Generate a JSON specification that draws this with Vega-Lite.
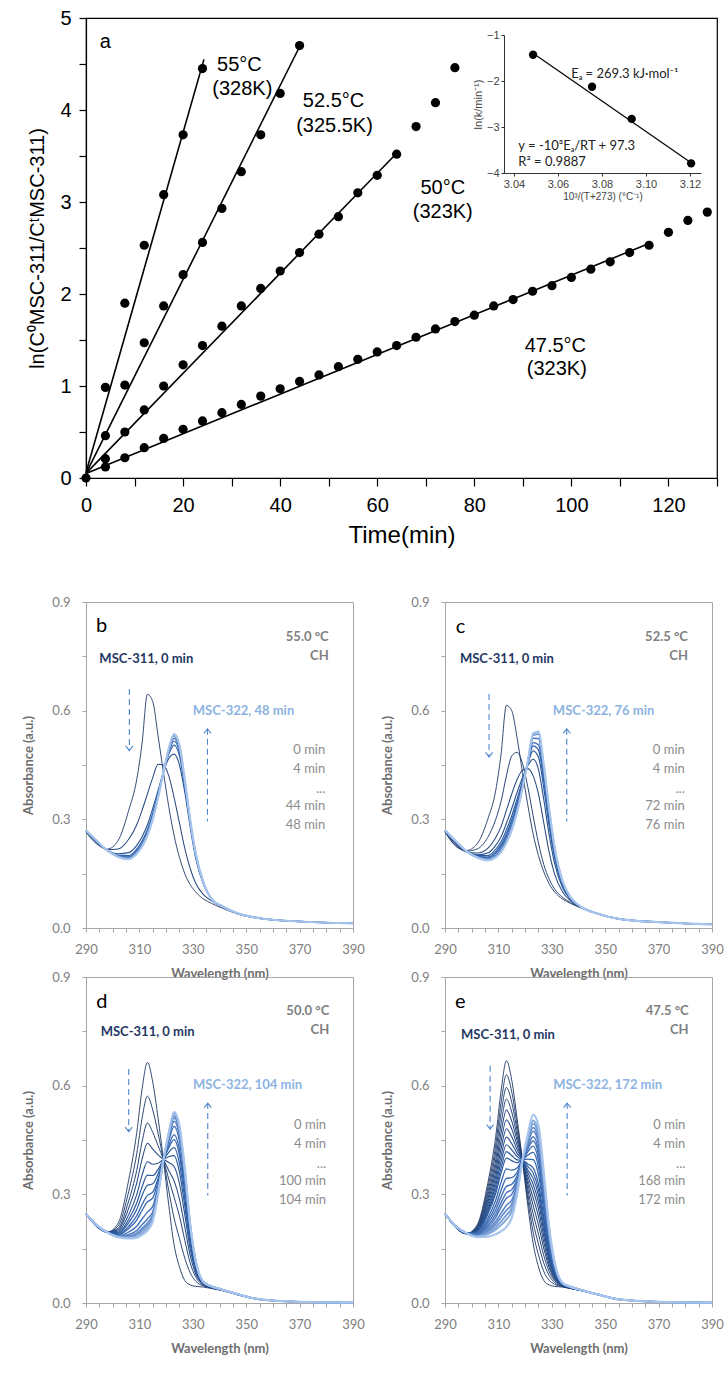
{
"$schema": "https://vega.github.io/schema/vega-lite/v6.json",
"background": "white",
"padding": {"left": 22, "top": 7, "right": 0, "bottom": 0},
"config": {
  "view": {"stroke": null},
  "axis": {"grid": false, "domainColor": "#a6a6a6", "tickColor": "#a6a6a6", "tickSize": 4, "labelColor": "#808080", "labelFont": "Lato", "labelFontSize": 13, "titleFont": "Lato", "titleFontSize": 13, "titleColor": "#6e6e6e", "titleFontWeight": "bold", "labelFlush": false, "labelOverlap": false},
  "axisY": {"labelPadding": 12, "titlePadding": 16},
  "axisX": {"labelPadding": 11, "titlePadding": 11},
  "text": {"font": "Lato"}
},
"datasets": {
  "pts": [
    {"s":"55","t":0,"y":0},
    {"s":"55","t":4,"y":0.985},{"s":"55","t":8,"y":1.90},{"s":"55","t":12,"y":2.53},{"s":"55","t":16,"y":3.08},{"s":"55","t":20,"y":3.73},{"s":"55","t":24,"y":4.45},
    {"s":"52.5","t":4,"y":0.46},{"s":"52.5","t":8,"y":1.01},{"s":"52.5","t":12,"y":1.47},{"s":"52.5","t":16,"y":1.87},{"s":"52.5","t":20,"y":2.21},{"s":"52.5","t":24,"y":2.56},{"s":"52.5","t":28,"y":2.93},{"s":"52.5","t":32,"y":3.33},{"s":"52.5","t":36,"y":3.73},{"s":"52.5","t":40,"y":4.18},{"s":"52.5","t":44,"y":4.70},
    {"s":"50","t":4,"y":0.21},{"s":"50","t":8,"y":0.50},{"s":"50","t":12,"y":0.74},{"s":"50","t":16,"y":1.00},{"s":"50","t":20,"y":1.23},{"s":"50","t":24,"y":1.44},{"s":"50","t":28,"y":1.65},{"s":"50","t":32,"y":1.87},{"s":"50","t":36,"y":2.06},{"s":"50","t":40,"y":2.25},{"s":"50","t":44,"y":2.45},{"s":"50","t":48,"y":2.65},{"s":"50","t":52,"y":2.84},{"s":"50","t":56,"y":3.10},{"s":"50","t":60,"y":3.29},{"s":"50","t":64,"y":3.52},{"s":"50","t":68,"y":3.82},{"s":"50","t":72,"y":4.08},{"s":"50","t":76,"y":4.46},
    {"s":"47.5","t":4,"y":0.12},{"s":"47.5","t":8,"y":0.22},{"s":"47.5","t":12,"y":0.33},{"s":"47.5","t":16,"y":0.43},{"s":"47.5","t":20,"y":0.53},{"s":"47.5","t":24,"y":0.62},{"s":"47.5","t":28,"y":0.71},{"s":"47.5","t":32,"y":0.80},{"s":"47.5","t":36,"y":0.89},{"s":"47.5","t":40,"y":0.97},{"s":"47.5","t":44,"y":1.05},{"s":"47.5","t":48,"y":1.12},{"s":"47.5","t":52,"y":1.21},{"s":"47.5","t":56,"y":1.29},{"s":"47.5","t":60,"y":1.37},{"s":"47.5","t":64,"y":1.44},{"s":"47.5","t":68,"y":1.53},{"s":"47.5","t":72,"y":1.62},{"s":"47.5","t":76,"y":1.70},{"s":"47.5","t":80,"y":1.77},{"s":"47.5","t":84,"y":1.87},{"s":"47.5","t":88,"y":1.94},{"s":"47.5","t":92,"y":2.03},{"s":"47.5","t":96,"y":2.09},{"s":"47.5","t":100,"y":2.18},{"s":"47.5","t":104,"y":2.27},{"s":"47.5","t":108,"y":2.35},{"s":"47.5","t":112,"y":2.45},{"s":"47.5","t":116,"y":2.53},{"s":"47.5","t":120,"y":2.67},{"s":"47.5","t":124,"y":2.80},{"s":"47.5","t":128,"y":2.89}
  ],
  "fit": [
    {"s":"55","t":0,"y":0.06},{"s":"55","t":24.3,"y":4.55},
    {"s":"52.5","t":0,"y":0.05},{"s":"52.5","t":44.3,"y":4.72},
    {"s":"50","t":0,"y":0.05},{"s":"50","t":64,"y":3.53},
    {"s":"47.5","t":0,"y":0.05},{"s":"47.5","t":116,"y":2.55}
  ],
  "lab": [
    {"t":31.6,"y":4.49,"txt":"55°C"},{"t":32.2,"y":4.23,"txt":"(328K)"},
    {"t":51,"y":4.10,"txt":"52.5°C"},{"t":51.2,"y":3.83,"txt":"(325.5K)"},
    {"t":73.5,"y":3.15,"txt":"50°C"},{"t":73.5,"y":2.89,"txt":"(323K)"},
    {"t":96.7,"y":1.44,"txt":"47.5°C"},{"t":97,"y":1.18,"txt":"(323K)"}
  ],
  "ins": [{"ix":3.0487,"iy":-1.42},{"ix":3.0755,"iy":-2.12},{"ix":3.0935,"iy":-2.82},{"ix":3.1205,"iy":-3.79}],
  "insfit": [{"ix":3.0487,"iy":-1.39},{"ix":3.12,"iy":-3.76}],
  "instxt": [
    {"ix":3.066,"iy":-1.84,"txt":"Eₐ = 269.3 kJ·mol⁻¹"},
    {"ix":3.042,"iy":-3.42,"txt":"y = -10³Eₐ/RT + 97.3"},
    {"ix":3.042,"iy":-3.77,"txt":"R² = 0.9887"}
  ],
  "spec": [
    {"p":"b","t":0,"w":[290,294,298,302,306,309,311,313,315,317,319,321,323,325,327,329,331,334,337,341,347,355,370,390],"a":[0.264,0.232,0.218,0.241,0.325,0.41,0.51,0.645,0.625,0.53,0.43,0.335,0.255,0.195,0.15,0.12,0.10,0.08,0.068,0.055,0.038,0.026,0.018,0.013]},
    {"p":"b","t":4,"w":[290,294,298,302,306,309,311,313,315,317,319,321,323,325,327,329,331,334,337,341,347,355,370,390],"a":[0.266,0.236,0.216,0.218,0.245,0.285,0.325,0.37,0.415,0.452,0.45,0.42,0.36,0.29,0.22,0.165,0.125,0.092,0.075,0.058,0.04,0.027,0.018,0.013]},
    {"p":"b","t":8,"w":[290,294,298,302,306,309,311,313,315,317,319,321,323,325,327,329,331,334,337,341,347,355,370,390],"a":[0.267,0.238,0.215,0.205,0.208,0.228,0.252,0.285,0.33,0.38,0.43,0.468,0.48,0.45,0.375,0.28,0.195,0.12,0.08,0.06,0.04,0.027,0.018,0.013]},
    {"p":"b","t":12,"w":[290,294,298,302,306,309,311,313,315,317,319,321,323,325,327,329,331,334,337,341,347,355,370,390],"a":[0.268,0.239,0.215,0.201,0.20,0.218,0.24,0.272,0.317,0.371,0.43,0.48,0.505,0.475,0.39,0.289,0.202,0.122,0.08,0.06,0.04,0.027,0.018,0.013]},
    {"p":"b","t":16,"w":[290,294,298,302,306,309,311,313,315,317,319,321,323,325,327,329,331,334,337,341,347,355,370,390],"a":[0.268,0.24,0.214,0.199,0.196,0.213,0.234,0.266,0.31,0.367,0.43,0.486,0.516,0.486,0.398,0.293,0.205,0.123,0.08,0.06,0.04,0.027,0.018,0.013]},
    {"p":"b","t":20,"w":[290,294,298,302,306,309,311,313,315,317,319,321,323,325,327,329,331,334,337,341,347,355,370,390],"a":[0.269,0.24,0.214,0.198,0.194,0.21,0.23,0.261,0.306,0.364,0.43,0.49,0.524,0.494,0.403,0.296,0.207,0.124,0.08,0.06,0.04,0.027,0.018,0.013]},
    {"p":"b","t":28,"w":[290,294,298,302,306,309,311,313,315,317,319,321,323,325,327,329,331,334,337,341,347,355,370,390],"a":[0.269,0.241,0.214,0.197,0.191,0.207,0.227,0.257,0.302,0.362,0.43,0.493,0.531,0.501,0.407,0.298,0.209,0.125,0.08,0.06,0.04,0.027,0.018,0.013]},
    {"p":"b","t":48,"w":[290,294,298,302,306,309,311,313,315,317,319,321,323,325,327,329,331,334,337,341,347,355,370,390],"a":[0.269,0.241,0.214,0.196,0.19,0.205,0.225,0.255,0.30,0.36,0.43,0.495,0.535,0.505,0.41,0.30,0.21,0.125,0.08,0.06,0.04,0.027,0.018,0.013]},

    {"p":"c","t":0,"w":[290,294,298,302,306,309,311,313,315,317,319,321,323,325,327,329,331,334,337,341,347,355,370,390],"a":[0.266,0.226,0.214,0.232,0.30,0.38,0.48,0.615,0.60,0.525,0.43,0.34,0.26,0.2,0.155,0.122,0.10,0.08,0.068,0.055,0.04,0.026,0.017,0.01]},
    {"p":"c","t":4,"w":[290,294,298,302,306,309,311,313,315,317,319,321,323,325,327,329,331,334,337,341,347,355,370,390],"a":[0.265,0.228,0.212,0.218,0.25,0.30,0.35,0.42,0.475,0.485,0.455,0.39,0.31,0.235,0.175,0.135,0.108,0.085,0.07,0.056,0.04,0.026,0.017,0.01]},
    {"p":"c","t":8,"w":[290,294,298,302,306,309,311,313,315,317,319,321,323,325,327,329,331,334,337,341,347,355,370,390],"a":[0.266,0.232,0.21,0.207,0.22,0.25,0.28,0.325,0.37,0.41,0.435,0.44,0.42,0.37,0.29,0.21,0.15,0.1,0.075,0.058,0.04,0.025,0.016,0.01]},
    {"p":"c","t":12,"w":[290,294,298,302,306,309,311,313,315,317,319,321,323,325,327,329,331,334,337,341,347,355,370,390],"a":[0.268,0.235,0.211,0.202,0.207,0.228,0.252,0.289,0.33,0.374,0.415,0.448,0.466,0.438,0.354,0.258,0.18,0.112,0.079,0.058,0.04,0.025,0.016,0.01]},
    {"p":"c","t":16,"w":[290,294,298,302,306,309,311,313,315,317,319,321,323,325,327,329,331,334,337,341,347,355,370,390],"a":[0.268,0.237,0.211,0.2,0.2,0.217,0.238,0.271,0.31,0.356,0.405,0.452,0.489,0.472,0.386,0.282,0.195,0.118,0.081,0.058,0.04,0.025,0.016,0.01]},
    {"p":"c","t":20,"w":[290,294,298,302,306,309,311,313,315,317,319,321,323,325,327,329,331,334,337,341,347,355,370,390],"a":[0.269,0.238,0.211,0.198,0.196,0.21,0.23,0.26,0.298,0.345,0.399,0.454,0.503,0.492,0.405,0.296,0.204,0.122,0.082,0.058,0.04,0.025,0.016,0.01]},
    {"p":"c","t":24,"w":[290,294,298,302,306,309,311,313,315,317,319,321,323,325,327,329,331,334,337,341,347,355,370,390],"a":[0.269,0.238,0.212,0.197,0.194,0.206,0.224,0.253,0.29,0.338,0.395,0.456,0.512,0.506,0.418,0.306,0.21,0.124,0.083,0.058,0.04,0.025,0.016,0.01]},
    {"p":"c","t":32,"w":[290,294,298,302,306,309,311,313,315,317,319,321,323,325,327,329,331,334,337,341,347,355,370,390],"a":[0.27,0.239,0.212,0.196,0.19,0.2,0.217,0.244,0.28,0.329,0.39,0.458,0.524,0.523,0.434,0.318,0.218,0.127,0.084,0.058,0.04,0.025,0.016,0.01]},
    {"p":"c","t":48,"w":[290,294,298,302,306,309,311,313,315,317,319,321,323,325,327,329,331,334,337,341,347,355,370,390],"a":[0.27,0.24,0.212,0.195,0.188,0.197,0.212,0.238,0.273,0.323,0.387,0.459,0.532,0.535,0.445,0.326,0.223,0.129,0.085,0.058,0.04,0.025,0.016,0.01]},
    {"p":"c","t":76,"w":[290,294,298,302,306,309,311,313,315,317,319,321,323,325,327,329,331,334,337,341,347,355,370,390],"a":[0.27,0.24,0.212,0.195,0.187,0.195,0.21,0.235,0.27,0.32,0.385,0.46,0.537,0.542,0.45,0.33,0.225,0.13,0.085,0.058,0.04,0.025,0.016,0.01]},

    {"p":"d","t":0,"w":[290,294,298,302,306,309,311,313,315,317,319,321,323,325,327,329,331,334,337,341,347,355,370,390],"a":[0.246,0.21,0.196,0.22,0.34,0.47,0.59,0.664,0.61,0.51,0.395,0.27,0.16,0.1,0.062,0.05,0.046,0.044,0.04,0.034,0.022,0.01,0.003,0.001]},
    {"p":"d","t":4,"w":[290,294,298,302,306,309,311,313,315,317,319,321,323,325,327,329,331,334,337,341,347,355,370,390],"a":[0.246,0.211,0.196,0.212,0.308,0.412,0.51,0.571,0.533,0.468,0.395,0.31,0.234,0.178,0.124,0.084,0.061,0.047,0.041,0.035,0.022,0.01,0.003,0.001]},
    {"p":"d","t":8,"w":[290,294,298,302,306,309,311,313,315,317,319,321,323,325,327,329,331,334,337,341,347,355,370,390],"a":[0.246,0.212,0.196,0.206,0.282,0.366,0.445,0.497,0.471,0.434,0.395,0.342,0.292,0.24,0.173,0.111,0.073,0.049,0.042,0.035,0.023,0.01,0.003,0.001]},
    {"p":"d","t":12,"w":[290,294,298,302,306,309,311,313,315,317,319,321,323,325,327,329,331,334,337,341,347,355,370,390],"a":[0.246,0.212,0.196,0.202,0.262,0.331,0.397,0.441,0.425,0.409,0.395,0.366,0.337,0.287,0.21,0.132,0.082,0.051,0.043,0.035,0.023,0.01,0.003,0.001]},
    {"p":"d","t":16,"w":[290,294,298,302,306,309,311,313,315,317,319,321,323,325,327,329,331,334,337,341,347,355,370,390],"a":[0.246,0.213,0.195,0.198,0.244,0.299,0.353,0.39,0.383,0.386,0.395,0.388,0.377,0.33,0.244,0.15,0.09,0.052,0.044,0.036,0.023,0.01,0.003,0.001]},
    {"p":"d","t":20,"w":[290,294,298,302,306,309,311,313,315,317,319,321,323,325,327,329,331,334,337,341,347,355,370,390],"a":[0.246,0.213,0.195,0.195,0.231,0.276,0.321,0.353,0.352,0.369,0.395,0.404,0.407,0.361,0.268,0.164,0.096,0.053,0.044,0.036,0.023,0.01,0.003,0.001]},
    {"p":"d","t":24,"w":[290,294,298,302,306,309,311,313,315,317,319,321,323,325,327,329,331,334,337,341,347,355,370,390],"a":[0.246,0.214,0.195,0.192,0.222,0.258,0.297,0.325,0.329,0.357,0.395,0.416,0.429,0.385,0.287,0.174,0.10,0.054,0.044,0.036,0.023,0.01,0.003,0.001]},
    {"p":"d","t":28,"w":[290,294,298,302,306,309,311,313,315,317,319,321,323,325,327,329,331,334,337,341,347,355,370,390],"a":[0.246,0.214,0.195,0.19,0.212,0.241,0.272,0.297,0.306,0.344,0.395,0.428,0.451,0.408,0.305,0.184,0.104,0.055,0.045,0.036,0.024,0.01,0.003,0.001]},
    {"p":"d","t":32,"w":[290,294,298,302,306,309,311,313,315,317,319,321,323,325,327,329,331,334,337,341,347,355,370,390],"a":[0.246,0.214,0.195,0.188,0.206,0.229,0.256,0.279,0.29,0.336,0.395,0.436,0.465,0.424,0.318,0.191,0.107,0.056,0.045,0.036,0.024,0.01,0.003,0.001]},
    {"p":"d","t":40,"w":[290,294,298,302,306,309,311,313,315,317,319,321,323,325,327,329,331,334,337,341,347,355,370,390],"a":[0.246,0.214,0.195,0.186,0.196,0.212,0.232,0.251,0.267,0.323,0.395,0.448,0.488,0.447,0.336,0.201,0.112,0.056,0.045,0.037,0.024,0.01,0.003,0.001]},
    {"p":"d","t":48,"w":[290,294,298,302,306,309,311,313,315,317,319,321,323,325,327,329,331,334,337,341,347,355,370,390],"a":[0.246,0.215,0.195,0.185,0.189,0.2,0.216,0.232,0.252,0.315,0.395,0.456,0.502,0.463,0.348,0.208,0.115,0.057,0.046,0.037,0.024,0.01,0.003,0.001]},
    {"p":"d","t":56,"w":[290,294,298,302,306,309,311,313,315,317,319,321,323,325,327,329,331,334,337,341,347,355,370,390],"a":[0.246,0.215,0.195,0.184,0.185,0.193,0.206,0.221,0.243,0.31,0.395,0.461,0.511,0.472,0.356,0.212,0.117,0.057,0.046,0.037,0.024,0.01,0.003,0.001]},
    {"p":"d","t":64,"w":[290,294,298,302,306,309,311,313,315,317,319,321,323,325,327,329,331,334,337,341,347,355,370,390],"a":[0.246,0.215,0.195,0.183,0.183,0.189,0.2,0.214,0.237,0.306,0.395,0.464,0.517,0.478,0.361,0.215,0.118,0.058,0.046,0.037,0.024,0.01,0.003,0.001]},
    {"p":"d","t":80,"w":[290,294,298,302,306,309,311,313,315,317,319,321,323,325,327,329,331,334,337,341,347,355,370,390],"a":[0.246,0.215,0.195,0.182,0.18,0.183,0.193,0.206,0.23,0.303,0.395,0.468,0.524,0.485,0.366,0.218,0.119,0.058,0.046,0.037,0.024,0.01,0.003,0.001]},
    {"p":"d","t":104,"w":[290,294,298,302,306,309,311,313,315,317,319,321,323,325,327,329,331,334,337,341,347,355,370,390],"a":[0.246,0.215,0.195,0.182,0.178,0.18,0.188,0.20,0.225,0.30,0.395,0.47,0.528,0.49,0.37,0.22,0.12,0.058,0.046,0.037,0.024,0.01,0.003,0.001]},

    {"p":"e","t":0,"w":[290,294,298,302,306,309,311,313,315,317,319,321,323,325,327,329,331,334,337,341,347,355,370,390],"a":[0.246,0.208,0.191,0.215,0.33,0.46,0.585,0.669,0.615,0.51,0.394,0.27,0.165,0.1,0.062,0.05,0.046,0.044,0.04,0.034,0.024,0.01,0.003,0.001]},
    {"p":"e","t":4,"w":[290,294,298,302,306,309,311,313,315,317,319,321,323,325,327,329,331,334,337,341,347,355,370,390],"a":[0.246,0.208,0.191,0.212,0.318,0.437,0.552,0.63,0.583,0.492,0.394,0.286,0.195,0.133,0.087,0.063,0.052,0.045,0.04,0.034,0.024,0.01,0.003,0.001]},
    {"p":"e","t":8,"w":[290,294,298,302,306,309,311,313,315,317,319,321,323,325,327,329,331,334,337,341,347,355,370,390],"a":[0.246,0.209,0.191,0.21,0.306,0.417,0.523,0.595,0.554,0.476,0.394,0.301,0.222,0.163,0.11,0.076,0.057,0.046,0.041,0.034,0.024,0.01,0.003,0.001]},
    {"p":"e","t":12,"w":[290,294,298,302,306,309,311,313,315,317,319,321,323,325,327,329,331,334,337,341,347,355,370,390],"a":[0.246,0.209,0.191,0.207,0.296,0.397,0.495,0.563,0.527,0.461,0.394,0.315,0.247,0.19,0.131,0.087,0.062,0.047,0.041,0.034,0.024,0.01,0.003,0.001]},
    {"p":"e","t":16,"w":[290,294,298,302,306,309,311,313,315,317,319,321,323,325,327,329,331,334,337,341,347,355,370,390],"a":[0.246,0.209,0.192,0.205,0.286,0.38,0.47,0.533,0.502,0.448,0.394,0.328,0.27,0.216,0.151,0.098,0.066,0.048,0.041,0.035,0.024,0.01,0.003,0.001]},
    {"p":"e","t":20,"w":[290,294,298,302,306,309,311,313,315,317,319,321,323,325,327,329,331,334,337,341,347,355,370,390],"a":[0.246,0.209,0.192,0.203,0.278,0.364,0.447,0.506,0.48,0.435,0.394,0.339,0.291,0.239,0.168,0.107,0.071,0.048,0.042,0.035,0.024,0.01,0.003,0.001]},
    {"p":"e","t":24,"w":[290,294,298,302,306,309,311,313,315,317,319,321,323,325,327,329,331,334,337,341,347,355,370,390],"a":[0.246,0.21,0.192,0.201,0.27,0.349,0.426,0.481,0.459,0.424,0.394,0.35,0.311,0.26,0.184,0.116,0.074,0.049,0.042,0.035,0.024,0.01,0.003,0.001]},
    {"p":"e","t":28,"w":[290,294,298,302,306,309,311,313,315,317,319,321,323,325,327,329,331,334,337,341,347,355,370,390],"a":[0.246,0.21,0.192,0.2,0.262,0.336,0.407,0.458,0.44,0.413,0.394,0.36,0.328,0.279,0.199,0.124,0.078,0.05,0.042,0.035,0.024,0.01,0.003,0.001]},
    {"p":"e","t":32,"w":[290,294,298,302,306,309,311,313,315,317,319,321,323,325,327,329,331,334,337,341,347,355,370,390],"a":[0.246,0.21,0.192,0.198,0.256,0.324,0.39,0.437,0.423,0.404,0.394,0.368,0.344,0.297,0.212,0.131,0.081,0.05,0.043,0.035,0.024,0.01,0.003,0.001]},
    {"p":"e","t":36,"w":[290,294,298,302,306,309,311,313,315,317,319,321,323,325,327,329,331,334,337,341,347,355,370,390],"a":[0.246,0.21,0.192,0.197,0.25,0.312,0.373,0.418,0.407,0.395,0.394,0.377,0.359,0.313,0.225,0.138,0.084,0.051,0.043,0.035,0.024,0.01,0.003,0.001]},
    {"p":"e","t":40,"w":[290,294,298,302,306,309,311,313,315,317,319,321,323,325,327,329,331,334,337,341,347,355,370,390],"a":[0.246,0.21,0.192,0.196,0.244,0.302,0.359,0.40,0.393,0.387,0.394,0.384,0.373,0.328,0.236,0.144,0.086,0.051,0.043,0.035,0.024,0.01,0.003,0.001]},
    {"p":"e","t":48,"w":[290,294,298,302,306,309,311,313,315,317,319,321,323,325,327,329,331,334,337,341,347,355,370,390],"a":[0.246,0.211,0.192,0.193,0.234,0.284,0.333,0.37,0.367,0.373,0.394,0.397,0.396,0.354,0.256,0.154,0.091,0.052,0.043,0.035,0.024,0.01,0.003,0.001]},
    {"p":"e","t":56,"w":[290,294,298,302,306,309,311,313,315,317,319,321,323,325,327,329,331,334,337,341,347,355,370,390],"a":[0.246,0.211,0.192,0.192,0.226,0.269,0.311,0.344,0.346,0.361,0.394,0.408,0.416,0.376,0.273,0.163,0.095,0.052,0.044,0.035,0.024,0.01,0.003,0.001]},
    {"p":"e","t":64,"w":[290,294,298,302,306,309,311,313,315,317,319,321,323,325,327,329,331,334,337,341,347,355,370,390],"a":[0.246,0.211,0.193,0.19,0.219,0.256,0.293,0.322,0.328,0.351,0.394,0.417,0.433,0.394,0.287,0.171,0.098,0.053,0.044,0.036,0.024,0.01,0.003,0.001]},
    {"p":"e","t":72,"w":[290,294,298,302,306,309,311,313,315,317,319,321,323,325,327,329,331,334,337,341,347,355,370,390],"a":[0.246,0.211,0.193,0.189,0.213,0.245,0.277,0.304,0.313,0.343,0.394,0.425,0.447,0.41,0.299,0.177,0.101,0.054,0.044,0.036,0.024,0.01,0.003,0.001]},
    {"p":"e","t":80,"w":[290,294,298,302,306,309,311,313,315,317,319,321,323,325,327,329,331,334,337,341,347,355,370,390],"a":[0.246,0.211,0.193,0.188,0.208,0.236,0.265,0.289,0.30,0.336,0.394,0.431,0.459,0.423,0.309,0.182,0.103,0.054,0.044,0.036,0.024,0.01,0.003,0.001]},
    {"p":"e","t":92,"w":[290,294,298,302,306,309,311,313,315,317,319,321,323,325,327,329,331,334,337,341,347,355,370,390],"a":[0.246,0.212,0.193,0.186,0.202,0.225,0.248,0.27,0.284,0.327,0.394,0.44,0.474,0.439,0.321,0.189,0.106,0.054,0.044,0.036,0.024,0.01,0.003,0.001]},
    {"p":"e","t":104,"w":[290,294,298,302,306,309,311,313,315,317,319,321,323,325,327,329,331,334,337,341,347,355,370,390],"a":[0.246,0.212,0.193,0.185,0.198,0.217,0.237,0.256,0.273,0.321,0.394,0.445,0.484,0.451,0.33,0.194,0.108,0.055,0.045,0.036,0.024,0.01,0.003,0.001]},
    {"p":"e","t":120,"w":[290,294,298,302,306,309,311,313,315,317,319,321,323,325,327,329,331,334,337,341,347,355,370,390],"a":[0.246,0.212,0.193,0.184,0.193,0.209,0.225,0.243,0.262,0.315,0.394,0.451,0.495,0.462,0.339,0.199,0.11,0.055,0.045,0.036,0.024,0.01,0.003,0.001]},
    {"p":"e","t":140,"w":[290,294,298,302,306,309,311,313,315,317,319,321,323,325,327,329,331,334,337,341,347,355,370,390],"a":[0.246,0.212,0.193,0.183,0.19,0.202,0.215,0.231,0.252,0.309,0.394,0.456,0.504,0.472,0.347,0.203,0.112,0.055,0.045,0.036,0.024,0.01,0.003,0.001]},
    {"p":"e","t":172,"w":[290,294,298,302,306,309,311,313,315,317,319,321,323,325,327,329,331,334,337,341,347,355,370,390],"a":[0.246,0.212,0.193,0.182,0.183,0.19,0.198,0.21,0.235,0.30,0.394,0.465,0.52,0.49,0.36,0.21,0.115,0.056,0.045,0.036,0.024,0.01,0.003,0.001]}
  ],
  "ann": [
    {"p":"b","k":"let","w":293.75,"a":0.834,"txt":"b"},
    {"p":"b","k":"tmp","w":380.9,"a":0.803,"txt":"55.0 °C"},
    {"p":"b","k":"tmp","w":380.9,"a":0.751,"txt":"CH"},
    {"p":"b","k":"m1","w":295,"a":0.742,"txt":"MSC-311, 0 min"},
    {"p":"b","k":"m2","w":330,"a":0.599,"txt":"MSC-322, 48 min"},
    {"p":"b","k":"tm","w":379.6,"a":0.492,"txt":"0 min"},
    {"p":"b","k":"tm","w":379.6,"a":0.439,"txt":"4 min"},
    {"p":"b","k":"tm","w":379.6,"a":0.384,"txt":"..."},
    {"p":"b","k":"tm","w":379.6,"a":0.336,"txt":"44 min"},
    {"p":"b","k":"tm","w":379.6,"a":0.285,"txt":"48 min"},
    {"p":"c","k":"let","w":294,"a":0.831,"txt":"c"},
    {"p":"c","k":"tmp","w":381,"a":0.803,"txt":"52.5 °C"},
    {"p":"c","k":"tmp","w":381,"a":0.751,"txt":"CH"},
    {"p":"c","k":"m1","w":295.6,"a":0.743,"txt":"MSC-311, 0 min"},
    {"p":"c","k":"m2","w":330.4,"a":0.599,"txt":"MSC-322, 76 min"},
    {"p":"c","k":"tm","w":379.8,"a":0.492,"txt":"0 min"},
    {"p":"c","k":"tm","w":379.8,"a":0.439,"txt":"4 min"},
    {"p":"c","k":"tm","w":379.8,"a":0.384,"txt":"..."},
    {"p":"c","k":"tm","w":379.8,"a":0.336,"txt":"72 min"},
    {"p":"c","k":"tm","w":379.8,"a":0.285,"txt":"76 min"},
    {"p":"d","k":"let","w":293.8,"a":0.832,"txt":"d"},
    {"p":"d","k":"tmp","w":381.1,"a":0.806,"txt":"50.0 °C"},
    {"p":"d","k":"tmp","w":381.1,"a":0.753,"txt":"CH"},
    {"p":"d","k":"m1","w":295.5,"a":0.747,"txt":"MSC-311, 0 min"},
    {"p":"d","k":"m2","w":330.1,"a":0.602,"txt":"MSC-322, 104 min"},
    {"p":"d","k":"tm","w":379.9,"a":0.491,"txt":"0 min"},
    {"p":"d","k":"tm","w":379.9,"a":0.439,"txt":"4 min"},
    {"p":"d","k":"tm","w":379.9,"a":0.384,"txt":"..."},
    {"p":"d","k":"tm","w":379.9,"a":0.336,"txt":"100 min"},
    {"p":"d","k":"tm","w":379.9,"a":0.283,"txt":"104 min"},
    {"p":"e","k":"let","w":293.75,"a":0.832,"txt":"e"},
    {"p":"e","k":"tmp","w":381.25,"a":0.806,"txt":"47.5 °C"},
    {"p":"e","k":"tmp","w":381.25,"a":0.753,"txt":"CH"},
    {"p":"e","k":"m1","w":296,"a":0.739,"txt":"MSC-311, 0 min"},
    {"p":"e","k":"m2","w":330.5,"a":0.602,"txt":"MSC-322, 172 min"},
    {"p":"e","k":"tm","w":380,"a":0.491,"txt":"0 min"},
    {"p":"e","k":"tm","w":380,"a":0.439,"txt":"4 min"},
    {"p":"e","k":"tm","w":380,"a":0.384,"txt":"..."},
    {"p":"e","k":"tm","w":380,"a":0.336,"txt":"168 min"},
    {"p":"e","k":"tm","w":380,"a":0.283,"txt":"172 min"}
  ],
  "arr": [
    {"p":"b","w":306.25,"a":0.66,"a2":0.49},{"p":"b","w":335.5,"a":0.55,"a2":0.294},
    {"p":"c","w":306.5,"a":0.646,"a2":0.472},{"p":"c","w":335.6,"a":0.55,"a2":0.294},
    {"p":"d","w":306,"a":0.646,"a2":0.473},{"p":"d","w":335.6,"a":0.552,"a2":0.297},
    {"p":"e","w":306.9,"a":0.655,"a2":0.48},{"p":"e","w":335.75,"a":0.552,"a2":0.297}
  ],
  "head": [
    {"p":"b","d":"dn","w":306.25,"a":0.49},{"p":"b","d":"up","w":335.5,"a":0.55},
    {"p":"c","d":"dn","w":306.5,"a":0.472},{"p":"c","d":"up","w":335.6,"a":0.55},
    {"p":"d","d":"dn","w":306,"a":0.473},{"p":"d","d":"up","w":335.6,"a":0.552},
    {"p":"e","d":"dn","w":306.9,"a":0.48},{"p":"e","d":"up","w":335.75,"a":0.552}
  ]
},
"resolve": {"scale": {"color": "independent", "strokeWidth": "independent"}},
"columns": 1,
"align": "none",
"spacing": 47,
"concat": [
  {
    "width": 631, "height": 460,
    "view": {"stroke": "black", "strokeWidth": 1.2},
    "resolve": {"scale": {"x": "independent", "y": "independent"}, "axis": {"x": "independent", "y": "independent"}},
    "layer": [
      {
        "encoding": {
          "x": {"field": "t", "type": "quantitative", "scale": {"domain": [0, 130], "nice": false},
                "axis": {"title": "Time(min)", "orient": "bottom", "values": [0,10,20,30,40,50,60,70,80,90,100,110,120,130], "labelExpr": "datum.value % 20 === 0 ? datum.label : ''", "tickSize": 8, "labelPadding": 9, "tickColor": "black", "domainColor": "black", "domainWidth": 1.2, "tickWidth": 1.2, "labelColor": "black", "labelFont": "Liberation Sans", "labelFontSize": 20, "titleFont": "Liberation Sans", "titleFontSize": 24, "titleFontWeight": "normal", "titleColor": "black", "titlePadding": 8}},
          "y": {"field": "y", "type": "quantitative", "scale": {"domain": [0, 5], "nice": false},
                "axis": {"title": "ln(C⁰MSC-311/CᵗMSC-311)", "orient": "left", "values": [0,0.5,1,1.5,2,2.5,3,3.5,4,4.5,5], "labelExpr": "datum.value % 1 === 0 ? format(datum.value, 'd') : ''", "tickSize": 7, "labelPadding": 8, "tickColor": "black", "domainColor": "black", "domainWidth": 1.2, "tickWidth": 1.2, "labelColor": "black", "labelFont": "Liberation Sans", "labelFontSize": 20, "titleFont": "Liberation Sans", "titleFontSize": 20, "titleFontWeight": "normal", "titleColor": "black", "titlePadding": 12}}
        },
        "layer": [
          {"data": {"name": "fit"}, "mark": {"type": "line", "color": "black", "strokeWidth": 1.6}, "encoding": {"detail": {"field": "s"}}},
          {"data": {"name": "pts"}, "mark": {"type": "circle", "color": "black", "opacity": 1, "size": 85}},
          {"data": {"name": "lab"}, "mark": {"type": "text", "font": "Liberation Sans", "fontSize": 20, "color": "black", "align": "center", "baseline": "middle"}, "encoding": {"text": {"field": "txt"}}},
          {"data": {"values": [{"t": 4, "y": 4.74, "txt": "a"}]}, "mark": {"type": "text", "font": "Liberation Sans", "fontSize": 20, "color": "black", "align": "center", "baseline": "middle"}, "encoding": {"text": {"field": "txt"}}}
        ]
      },
      {
        "encoding": {
          "x": {"field": "ix", "type": "quantitative", "scale": {"domain": [3.0355, 3.125], "range": [418, 615], "nice": false, "zero": false},
                "axis": {"title": "10³/(T+273) (°C⁻¹)", "orient": "bottom", "offset": -305, "values": [3.04,3.06,3.08,3.10,3.12], "format": ".2f", "tickSize": 3, "labelPadding": 2, "tickColor": "#333", "domainColor": "#333", "labelColor": "#444", "labelFont": "Liberation Sans", "labelFontSize": 11, "titleFont": "Liberation Sans", "titleFontSize": 10, "titleFontWeight": "normal", "titleColor": "#444", "titlePadding": 2}},
          "y": {"field": "iy", "type": "quantitative", "scale": {"domain": [-4, -0.99], "range": [155, 17], "nice": false, "zero": false},
                "axis": {"title": "ln(k/min⁻¹)", "orient": "left", "offset": -418, "values": [-1,-2,-3,-4], "tickSize": 3, "labelPadding": 2, "tickColor": "#333", "domainColor": "#333", "labelColor": "#444", "labelFont": "Liberation Sans", "labelFontSize": 11, "titleFont": "Liberation Sans", "titleFontSize": 11, "titleFontWeight": "normal", "titleColor": "#444", "titlePadding": 3}}
        },
        "layer": [
          {"data": {"values": [{}]}, "mark": {"type": "rect", "fill": "white", "stroke": "#333", "strokeWidth": 1}, "encoding": {"x": {"datum": 3.0355}, "x2": {"datum": 3.125}, "y": {"datum": -4}, "y2": {"datum": -0.99}}},
          {"data": {"name": "insfit"}, "mark": {"type": "line", "color": "black", "strokeWidth": 1.2}},
          {"data": {"name": "ins"}, "mark": {"type": "circle", "color": "black", "opacity": 1, "size": 70}},
          {"data": {"name": "instxt"}, "mark": {"type": "text", "font": "Lato", "fontSize": 13, "color": "#222", "align": "left", "baseline": "middle"}, "encoding": {"text": {"field": "txt"}}}
        ]
      }
    ]
  },
  {
    "columns": 2,
    "bounds": "flush",
    "spacing": {"row": 49, "column": 92},
    "resolve": {"scale": {"color": "independent", "strokeWidth": "independent"}},
    "concat": [
      {
        "width": 267, "height": 326, "view": {"stroke": "#a6a6a6"},
        "encoding": {
          "x": {"field": "w", "type": "quantitative", "scale": {"domain": [290, 390], "nice": false}, "axis": {"title": "Wavelength (nm)", "values": [290,295,300,305,310,315,320,325,330,335,340,345,350,355,360,365,370,375,380,385,390], "labelExpr": "(datum.value - 290) % 20 === 0 ? datum.label : ''"}},
          "y": {"field": "a", "type": "quantitative", "scale": {"domain": [0, 0.9], "nice": false}, "axis": {"title": "Absorbance (a.u.)", "values": [0,0.15,0.3,0.45,0.6,0.75,0.9], "labelExpr": "indexof([0,0.3,0.6,0.9], datum.value) >= 0 ? format(datum.value, '.1f') : ''"}}
        },
        "layer": [
          {"data": {"name": "spec"}, "transform": [{"filter": "datum.p === 'b'"}, {"flatten": ["w", "a"]}], "mark": {"type": "line", "interpolate": "monotone"},
           "encoding": {"detail": {"field": "t"}, "color": {"field": "t", "type": "quantitative", "scale": {"domain": [0, 12, 48], "range": ["#1F3864", "#2E62AD", "#A6C4EC"]}, "legend": null}, "strokeWidth": {"field": "t", "type": "quantitative", "scale": {"domain": [0, 48], "range": [0.9, 2.2]}, "legend": null}}},
          {"data": {"name": "arr"}, "transform": [{"filter": "datum.p === 'b'"}], "mark": {"type": "rule", "strokeDash": [6, 4], "color": "#4F86CC", "strokeWidth": 1.1}, "encoding": {"y2": {"field": "a2"}}},
          {"data": {"name": "head"}, "transform": [{"filter": "datum.p === 'b' && datum.d === 'dn'"}], "mark": {"type": "point", "shape": "M-1,-1.3L0,0L1,-1.3", "filled": false, "size": 50, "color": "#4F86CC", "strokeWidth": 1.1, "opacity": 1}},
          {"data": {"name": "head"}, "transform": [{"filter": "datum.p === 'b' && datum.d === 'up'"}], "mark": {"type": "point", "shape": "M-1,1.3L0,0L1,1.3", "filled": false, "size": 50, "color": "#4F86CC", "strokeWidth": 1.1, "opacity": 1}},
          {"data": {"name": "ann"}, "transform": [{"filter": "datum.p === 'b' && datum.k === 'let'"}], "mark": {"type": "text", "align": "left", "baseline": "middle", "fontSize": 20, "color": "black"}, "encoding": {"text": {"field": "txt"}}},
          {"data": {"name": "ann"}, "transform": [{"filter": "datum.p === 'b' && datum.k === 'tmp'"}], "mark": {"type": "text", "align": "right", "baseline": "middle", "fontSize": 13, "fontWeight": "bold", "color": "#7F7F7F"}, "encoding": {"text": {"field": "txt"}}},
          {"data": {"name": "ann"}, "transform": [{"filter": "datum.p === 'b' && datum.k === 'm1'"}], "mark": {"type": "text", "align": "left", "baseline": "middle", "fontSize": 13, "fontWeight": "bold", "color": "#1F3864"}, "encoding": {"text": {"field": "txt"}}},
          {"data": {"name": "ann"}, "transform": [{"filter": "datum.p === 'b' && datum.k === 'm2'"}], "mark": {"type": "text", "align": "left", "baseline": "middle", "fontSize": 13, "fontWeight": "bold", "color": "#8DB3E2"}, "encoding": {"text": {"field": "txt"}}},
          {"data": {"name": "ann"}, "transform": [{"filter": "datum.p === 'b' && datum.k === 'tm'"}], "mark": {"type": "text", "align": "right", "baseline": "middle", "fontSize": 13, "color": "#8C8C8C"}, "encoding": {"text": {"field": "txt"}}}
        ]
      },
      {
        "width": 267, "height": 326, "view": {"stroke": "#a6a6a6"},
        "encoding": {
          "x": {"field": "w", "type": "quantitative", "scale": {"domain": [290, 390], "nice": false}, "axis": {"title": "Wavelength (nm)", "values": [290,295,300,305,310,315,320,325,330,335,340,345,350,355,360,365,370,375,380,385,390], "labelExpr": "(datum.value - 290) % 20 === 0 ? datum.label : ''"}},
          "y": {"field": "a", "type": "quantitative", "scale": {"domain": [0, 0.9], "nice": false}, "axis": {"title": "Absorbance (a.u.)", "values": [0,0.15,0.3,0.45,0.6,0.75,0.9], "labelExpr": "indexof([0,0.3,0.6,0.9], datum.value) >= 0 ? format(datum.value, '.1f') : ''"}}
        },
        "layer": [
          {"data": {"name": "spec"}, "transform": [{"filter": "datum.p === 'c'"}, {"flatten": ["w", "a"]}], "mark": {"type": "line", "interpolate": "monotone"},
           "encoding": {"detail": {"field": "t"}, "color": {"field": "t", "type": "quantitative", "scale": {"domain": [0, 20, 76], "range": ["#1F3864", "#2E62AD", "#A6C4EC"]}, "legend": null}, "strokeWidth": {"field": "t", "type": "quantitative", "scale": {"domain": [0, 76], "range": [0.9, 2.2]}, "legend": null}}},
          {"data": {"name": "arr"}, "transform": [{"filter": "datum.p === 'c'"}], "mark": {"type": "rule", "strokeDash": [6, 4], "color": "#4F86CC", "strokeWidth": 1.1}, "encoding": {"y2": {"field": "a2"}}},
          {"data": {"name": "head"}, "transform": [{"filter": "datum.p === 'c' && datum.d === 'dn'"}], "mark": {"type": "point", "shape": "M-1,-1.3L0,0L1,-1.3", "filled": false, "size": 50, "color": "#4F86CC", "strokeWidth": 1.1, "opacity": 1}},
          {"data": {"name": "head"}, "transform": [{"filter": "datum.p === 'c' && datum.d === 'up'"}], "mark": {"type": "point", "shape": "M-1,1.3L0,0L1,1.3", "filled": false, "size": 50, "color": "#4F86CC", "strokeWidth": 1.1, "opacity": 1}},
          {"data": {"name": "ann"}, "transform": [{"filter": "datum.p === 'c' && datum.k === 'let'"}], "mark": {"type": "text", "align": "left", "baseline": "middle", "fontSize": 20, "color": "black"}, "encoding": {"text": {"field": "txt"}}},
          {"data": {"name": "ann"}, "transform": [{"filter": "datum.p === 'c' && datum.k === 'tmp'"}], "mark": {"type": "text", "align": "right", "baseline": "middle", "fontSize": 13, "fontWeight": "bold", "color": "#7F7F7F"}, "encoding": {"text": {"field": "txt"}}},
          {"data": {"name": "ann"}, "transform": [{"filter": "datum.p === 'c' && datum.k === 'm1'"}], "mark": {"type": "text", "align": "left", "baseline": "middle", "fontSize": 13, "fontWeight": "bold", "color": "#1F3864"}, "encoding": {"text": {"field": "txt"}}},
          {"data": {"name": "ann"}, "transform": [{"filter": "datum.p === 'c' && datum.k === 'm2'"}], "mark": {"type": "text", "align": "left", "baseline": "middle", "fontSize": 13, "fontWeight": "bold", "color": "#8DB3E2"}, "encoding": {"text": {"field": "txt"}}},
          {"data": {"name": "ann"}, "transform": [{"filter": "datum.p === 'c' && datum.k === 'tm'"}], "mark": {"type": "text", "align": "right", "baseline": "middle", "fontSize": 13, "color": "#8C8C8C"}, "encoding": {"text": {"field": "txt"}}}
        ]
      },
      {
        "width": 267, "height": 326, "view": {"stroke": "#a6a6a6"},
        "encoding": {
          "x": {"field": "w", "type": "quantitative", "scale": {"domain": [290, 390], "nice": false}, "axis": {"title": "Wavelength (nm)", "values": [290,295,300,305,310,315,320,325,330,335,340,345,350,355,360,365,370,375,380,385,390], "labelExpr": "(datum.value - 290) % 20 === 0 ? datum.label : ''"}},
          "y": {"field": "a", "type": "quantitative", "scale": {"domain": [0, 0.9], "nice": false}, "axis": {"title": "Absorbance (a.u.)", "values": [0,0.15,0.3,0.45,0.6,0.75,0.9], "labelExpr": "indexof([0,0.3,0.6,0.9], datum.value) >= 0 ? format(datum.value, '.1f') : ''"}}
        },
        "layer": [
          {"data": {"name": "spec"}, "transform": [{"filter": "datum.p === 'd'"}, {"flatten": ["w", "a"]}], "mark": {"type": "line", "interpolate": "monotone"},
           "encoding": {"detail": {"field": "t"}, "color": {"field": "t", "type": "quantitative", "scale": {"domain": [0, 28, 104], "range": ["#1F3864", "#2E62AD", "#A6C4EC"]}, "legend": null}, "strokeWidth": {"field": "t", "type": "quantitative", "scale": {"domain": [0, 104], "range": [0.9, 2.2]}, "legend": null}}},
          {"data": {"name": "arr"}, "transform": [{"filter": "datum.p === 'd'"}], "mark": {"type": "rule", "strokeDash": [6, 4], "color": "#4F86CC", "strokeWidth": 1.1}, "encoding": {"y2": {"field": "a2"}}},
          {"data": {"name": "head"}, "transform": [{"filter": "datum.p === 'd' && datum.d === 'dn'"}], "mark": {"type": "point", "shape": "M-1,-1.3L0,0L1,-1.3", "filled": false, "size": 50, "color": "#4F86CC", "strokeWidth": 1.1, "opacity": 1}},
          {"data": {"name": "head"}, "transform": [{"filter": "datum.p === 'd' && datum.d === 'up'"}], "mark": {"type": "point", "shape": "M-1,1.3L0,0L1,1.3", "filled": false, "size": 50, "color": "#4F86CC", "strokeWidth": 1.1, "opacity": 1}},
          {"data": {"name": "ann"}, "transform": [{"filter": "datum.p === 'd' && datum.k === 'let'"}], "mark": {"type": "text", "align": "left", "baseline": "middle", "fontSize": 20, "color": "black"}, "encoding": {"text": {"field": "txt"}}},
          {"data": {"name": "ann"}, "transform": [{"filter": "datum.p === 'd' && datum.k === 'tmp'"}], "mark": {"type": "text", "align": "right", "baseline": "middle", "fontSize": 13, "fontWeight": "bold", "color": "#7F7F7F"}, "encoding": {"text": {"field": "txt"}}},
          {"data": {"name": "ann"}, "transform": [{"filter": "datum.p === 'd' && datum.k === 'm1'"}], "mark": {"type": "text", "align": "left", "baseline": "middle", "fontSize": 13, "fontWeight": "bold", "color": "#1F3864"}, "encoding": {"text": {"field": "txt"}}},
          {"data": {"name": "ann"}, "transform": [{"filter": "datum.p === 'd' && datum.k === 'm2'"}], "mark": {"type": "text", "align": "left", "baseline": "middle", "fontSize": 13, "fontWeight": "bold", "color": "#8DB3E2"}, "encoding": {"text": {"field": "txt"}}},
          {"data": {"name": "ann"}, "transform": [{"filter": "datum.p === 'd' && datum.k === 'tm'"}], "mark": {"type": "text", "align": "right", "baseline": "middle", "fontSize": 13, "color": "#8C8C8C"}, "encoding": {"text": {"field": "txt"}}}
        ]
      },
      {
        "width": 267, "height": 326, "view": {"stroke": "#a6a6a6"},
        "encoding": {
          "x": {"field": "w", "type": "quantitative", "scale": {"domain": [290, 390], "nice": false}, "axis": {"title": "Wavelength (nm)", "values": [290,295,300,305,310,315,320,325,330,335,340,345,350,355,360,365,370,375,380,385,390], "labelExpr": "(datum.value - 290) % 20 === 0 ? datum.label : ''"}},
          "y": {"field": "a", "type": "quantitative", "scale": {"domain": [0, 0.9], "nice": false}, "axis": {"title": "Absorbance (a.u.)", "values": [0,0.15,0.3,0.45,0.6,0.75,0.9], "labelExpr": "indexof([0,0.3,0.6,0.9], datum.value) >= 0 ? format(datum.value, '.1f') : ''"}}
        },
        "layer": [
          {"data": {"name": "spec"}, "transform": [{"filter": "datum.p === 'e'"}, {"flatten": ["w", "a"]}], "mark": {"type": "line", "interpolate": "monotone"},
           "encoding": {"detail": {"field": "t"}, "color": {"field": "t", "type": "quantitative", "scale": {"domain": [0, 48, 172], "range": ["#1F3864", "#2E62AD", "#A6C4EC"]}, "legend": null}, "strokeWidth": {"field": "t", "type": "quantitative", "scale": {"domain": [0, 172], "range": [0.9, 2.2]}, "legend": null}}},
          {"data": {"name": "arr"}, "transform": [{"filter": "datum.p === 'e'"}], "mark": {"type": "rule", "strokeDash": [6, 4], "color": "#4F86CC", "strokeWidth": 1.1}, "encoding": {"y2": {"field": "a2"}}},
          {"data": {"name": "head"}, "transform": [{"filter": "datum.p === 'e' && datum.d === 'dn'"}], "mark": {"type": "point", "shape": "M-1,-1.3L0,0L1,-1.3", "filled": false, "size": 50, "color": "#4F86CC", "strokeWidth": 1.1, "opacity": 1}},
          {"data": {"name": "head"}, "transform": [{"filter": "datum.p === 'e' && datum.d === 'up'"}], "mark": {"type": "point", "shape": "M-1,1.3L0,0L1,1.3", "filled": false, "size": 50, "color": "#4F86CC", "strokeWidth": 1.1, "opacity": 1}},
          {"data": {"name": "ann"}, "transform": [{"filter": "datum.p === 'e' && datum.k === 'let'"}], "mark": {"type": "text", "align": "left", "baseline": "middle", "fontSize": 20, "color": "black"}, "encoding": {"text": {"field": "txt"}}},
          {"data": {"name": "ann"}, "transform": [{"filter": "datum.p === 'e' && datum.k === 'tmp'"}], "mark": {"type": "text", "align": "right", "baseline": "middle", "fontSize": 13, "fontWeight": "bold", "color": "#7F7F7F"}, "encoding": {"text": {"field": "txt"}}},
          {"data": {"name": "ann"}, "transform": [{"filter": "datum.p === 'e' && datum.k === 'm1'"}], "mark": {"type": "text", "align": "left", "baseline": "middle", "fontSize": 13, "fontWeight": "bold", "color": "#1F3864"}, "encoding": {"text": {"field": "txt"}}},
          {"data": {"name": "ann"}, "transform": [{"filter": "datum.p === 'e' && datum.k === 'm2'"}], "mark": {"type": "text", "align": "left", "baseline": "middle", "fontSize": 13, "fontWeight": "bold", "color": "#8DB3E2"}, "encoding": {"text": {"field": "txt"}}},
          {"data": {"name": "ann"}, "transform": [{"filter": "datum.p === 'e' && datum.k === 'tm'"}], "mark": {"type": "text", "align": "right", "baseline": "middle", "fontSize": 13, "color": "#8C8C8C"}, "encoding": {"text": {"field": "txt"}}}
        ]
      }
    ]
  }
]
}
